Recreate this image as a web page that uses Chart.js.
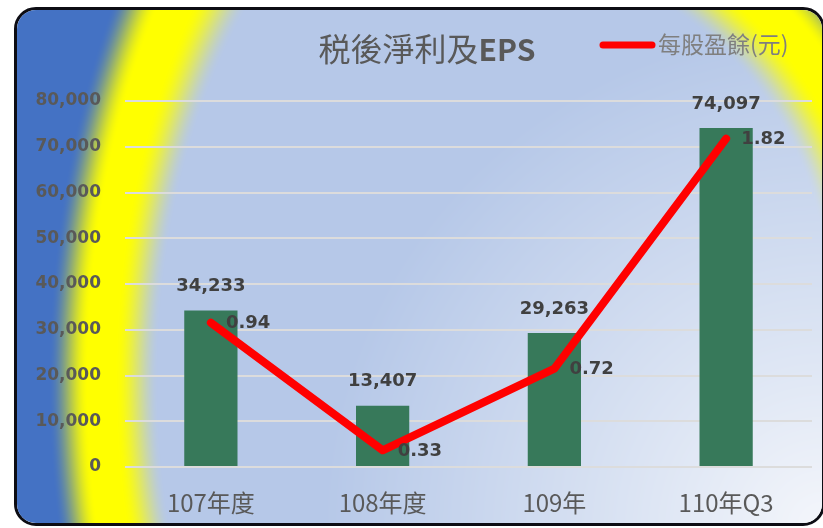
<!DOCTYPE html>
<html>
<head>
<meta charset="utf-8">
<script src="https://cdn.jsdelivr.net/npm/chart.js@4"></script>
<style>
  html, body { margin: 0; padding: 0; width: 823px; height: 528px; overflow: hidden; background: #fff; }
  #frame {
    position: absolute; left: 14px; top: 7px; width: 811px; height: 519px;
    box-sizing: border-box; border: 3px solid #0d0d14; border-radius: 22px; overflow: hidden;
  }
  #bg { position: absolute; left: -17px; top: -10px; }
  #chart { position: absolute; left: 0; top: 0; }
</style>
</head>
<body>
<div id="frame"><canvas id="bg" width="823" height="528"></canvas></div>
<canvas id="chart" width="823" height="528"></canvas>
<script>
const categories = ['107年度', '108年度', '109年', '110年Q3'];
const netIncome = [34233, 13407, 29263, 74097];
const eps = [0.94, 0.33, 0.72, 1.82];
const yTicks = [0, 10000, 20000, 30000, 40000, 50000, 60000, 70000, 80000];
const chartTitle = ['税後淨利及', 'EPS'];
const epsLabel = '每股盈餘(元)';

const fmt = v => v.toLocaleString('en-US');

// background: blue outside, a soft yellow ring, pale blue -> white inside
(function paintBackground() {
  const c = document.getElementById('bg');
  const ctx = c.getContext('2d');
  const W = c.width, H = c.height;
  const img = ctx.createImageData(W, H);
  const blue = [68, 114, 196], yel = [255, 255, 0];
  const mix = (a, b, t) => [a[0] + (b[0] - a[0]) * t, a[1] + (b[1] - a[1]) * t, a[2] + (b[2] - a[2]) * t];
  const ss = t => t * t * (3 - 2 * t);
  const inner = (x, y) => {
    const d = Math.hypot(823 - x, 528 - y);
    const w = [244, 246, 251], m = [222, 230, 244], lb = [182, 200, 232];
    if (d < 170) return mix(w, m, d / 170);
    return mix(m, lb, Math.min(1, (d - 170) / 330));
  };
  // normalised radius: ellipse on the left, circle on the upper right
  const field = (x, y) => {
    if (x < 483) return Math.hypot((x - 485) / 380, (y - 380) / 630);
    if (y < 300) return Math.hypot(x - 480, y - 300) / 404;
    return (x - 480) / 404;
  };
  for (let y = 0; y < H; y++) {
    for (let x = 0; x < W; x++) {
      const t = field(x, y);
      let col;
      if (t <= 0.86) col = inner(x, y);
      else if (t < 0.975) col = mix(inner(x, y), yel, ss((t - 0.86) / 0.115));
      else if (t <= 1.045) col = yel;
      else if (t < 1.15) col = mix(yel, blue, ss((t - 1.045) / 0.105));
      else col = blue;
      const i = (y * W + x) * 4;
      img.data[i] = col[0]; img.data[i + 1] = col[1]; img.data[i + 2] = col[2]; img.data[i + 3] = 255;
    }
  }
  ctx.putImageData(img, 0, 0);
})();

// title, legend and value labels
const extras = {
  id: 'extras',
  afterDatasetsDraw(chart) {
    const ctx = chart.ctx;
    ctx.save();
    ctx.fillStyle = '#404040';
    ctx.font = 'bold 18px "DejaVu Sans"';
    ctx.textBaseline = 'middle';
    ctx.textAlign = 'center';
    chart.getDatasetMeta(0).data.forEach((el, i) => {
      ctx.fillText(fmt(netIncome[i]), el.x, el.y - 24);
    });
    ctx.textAlign = 'left';
    chart.getDatasetMeta(1).data.forEach((el, i) => {
      ctx.fillText(eps[i].toFixed(2), el.x + 15, el.y + 1);
    });
    ctx.restore();
  },
  afterDraw(chart) {
    const ctx = chart.ctx;
    ctx.save();
    ctx.textBaseline = 'middle';
    ctx.fillStyle = '#595959';
    const f1 = '32px "Noto Sans CJK TC"', f2 = 'bold 30px "Noto Sans CJK TC"';
    ctx.font = f1; const w1 = ctx.measureText(chartTitle[0]).width;
    ctx.font = f2; const w2 = ctx.measureText(chartTitle[1]).width;
    let x = 427 - (w1 + w2) / 2;
    ctx.textAlign = 'left';
    ctx.font = f1; ctx.fillText(chartTitle[0], x, 49);
    ctx.font = f2; ctx.fillText(chartTitle[1], x + w1, 50);

    // legend
    ctx.strokeStyle = chart.data.datasets[1].borderColor;
    ctx.lineWidth = 7;
    ctx.lineCap = 'round';
    ctx.beginPath(); ctx.moveTo(603, 45); ctx.lineTo(652, 45); ctx.stroke();
    ctx.fillStyle = '#7f7f7f';
    ctx.font = '23px "Noto Sans CJK TC"';
    ctx.fillText(epsLabel, 658, 44);
    ctx.restore();
  }
};

new Chart(document.getElementById('chart'), {
  type: 'bar',
  data: {
    labels: categories,
    datasets: [{
      type: 'bar',
      data: netIncome,
      backgroundColor: '#37795a',
      barPercentage: 0.31,
      categoryPercentage: 1,
      yAxisID: 'y',
      order: 1
    }, {
      type: 'line',
      data: eps,
      borderColor: '#ff0000',
      borderWidth: 8,
      borderCapStyle: 'round',
      borderJoinStyle: 'round',
      pointRadius: 0,
      tension: 0,
      yAxisID: 'y2',
      order: 0
    }]
  },
  options: {
    responsive: false,
    animation: false,
    devicePixelRatio: 1,
    layout: { padding: { left: 0, right: 11, top: 101, bottom: 0 } },
    plugins: { legend: { display: false }, title: { display: false }, tooltip: { enabled: false } },
    scales: {
      x: {
        grid: { display: false },
        border: { display: false },
        ticks: { color: '#595959', font: { family: '"Noto Sans CJK TC"', size: 24 }, padding: 13 },
        afterFit(s) { s.height = 61; }
      },
      y: {
        min: yTicks[0],
        max: yTicks[yTicks.length - 1],
        afterBuildTicks(s) { s.ticks = yTicks.map(v => ({ value: v })); },
        grid: { color: '#dcdcdc', lineWidth: 2, drawTicks: false },
        border: { display: false },
        ticks: {
          color: '#595959',
          font: { family: '"DejaVu Sans"', size: 17, weight: 'bold' },
          padding: 24,
          callback: v => fmt(v)
        },
        afterFit(s) { s.width = 125; }
      },
      y2: { display: false, min: 0.25, max: 2.0, position: 'right' }
    }
  },
  plugins: [extras]
});
</script>
</body>
</html>
